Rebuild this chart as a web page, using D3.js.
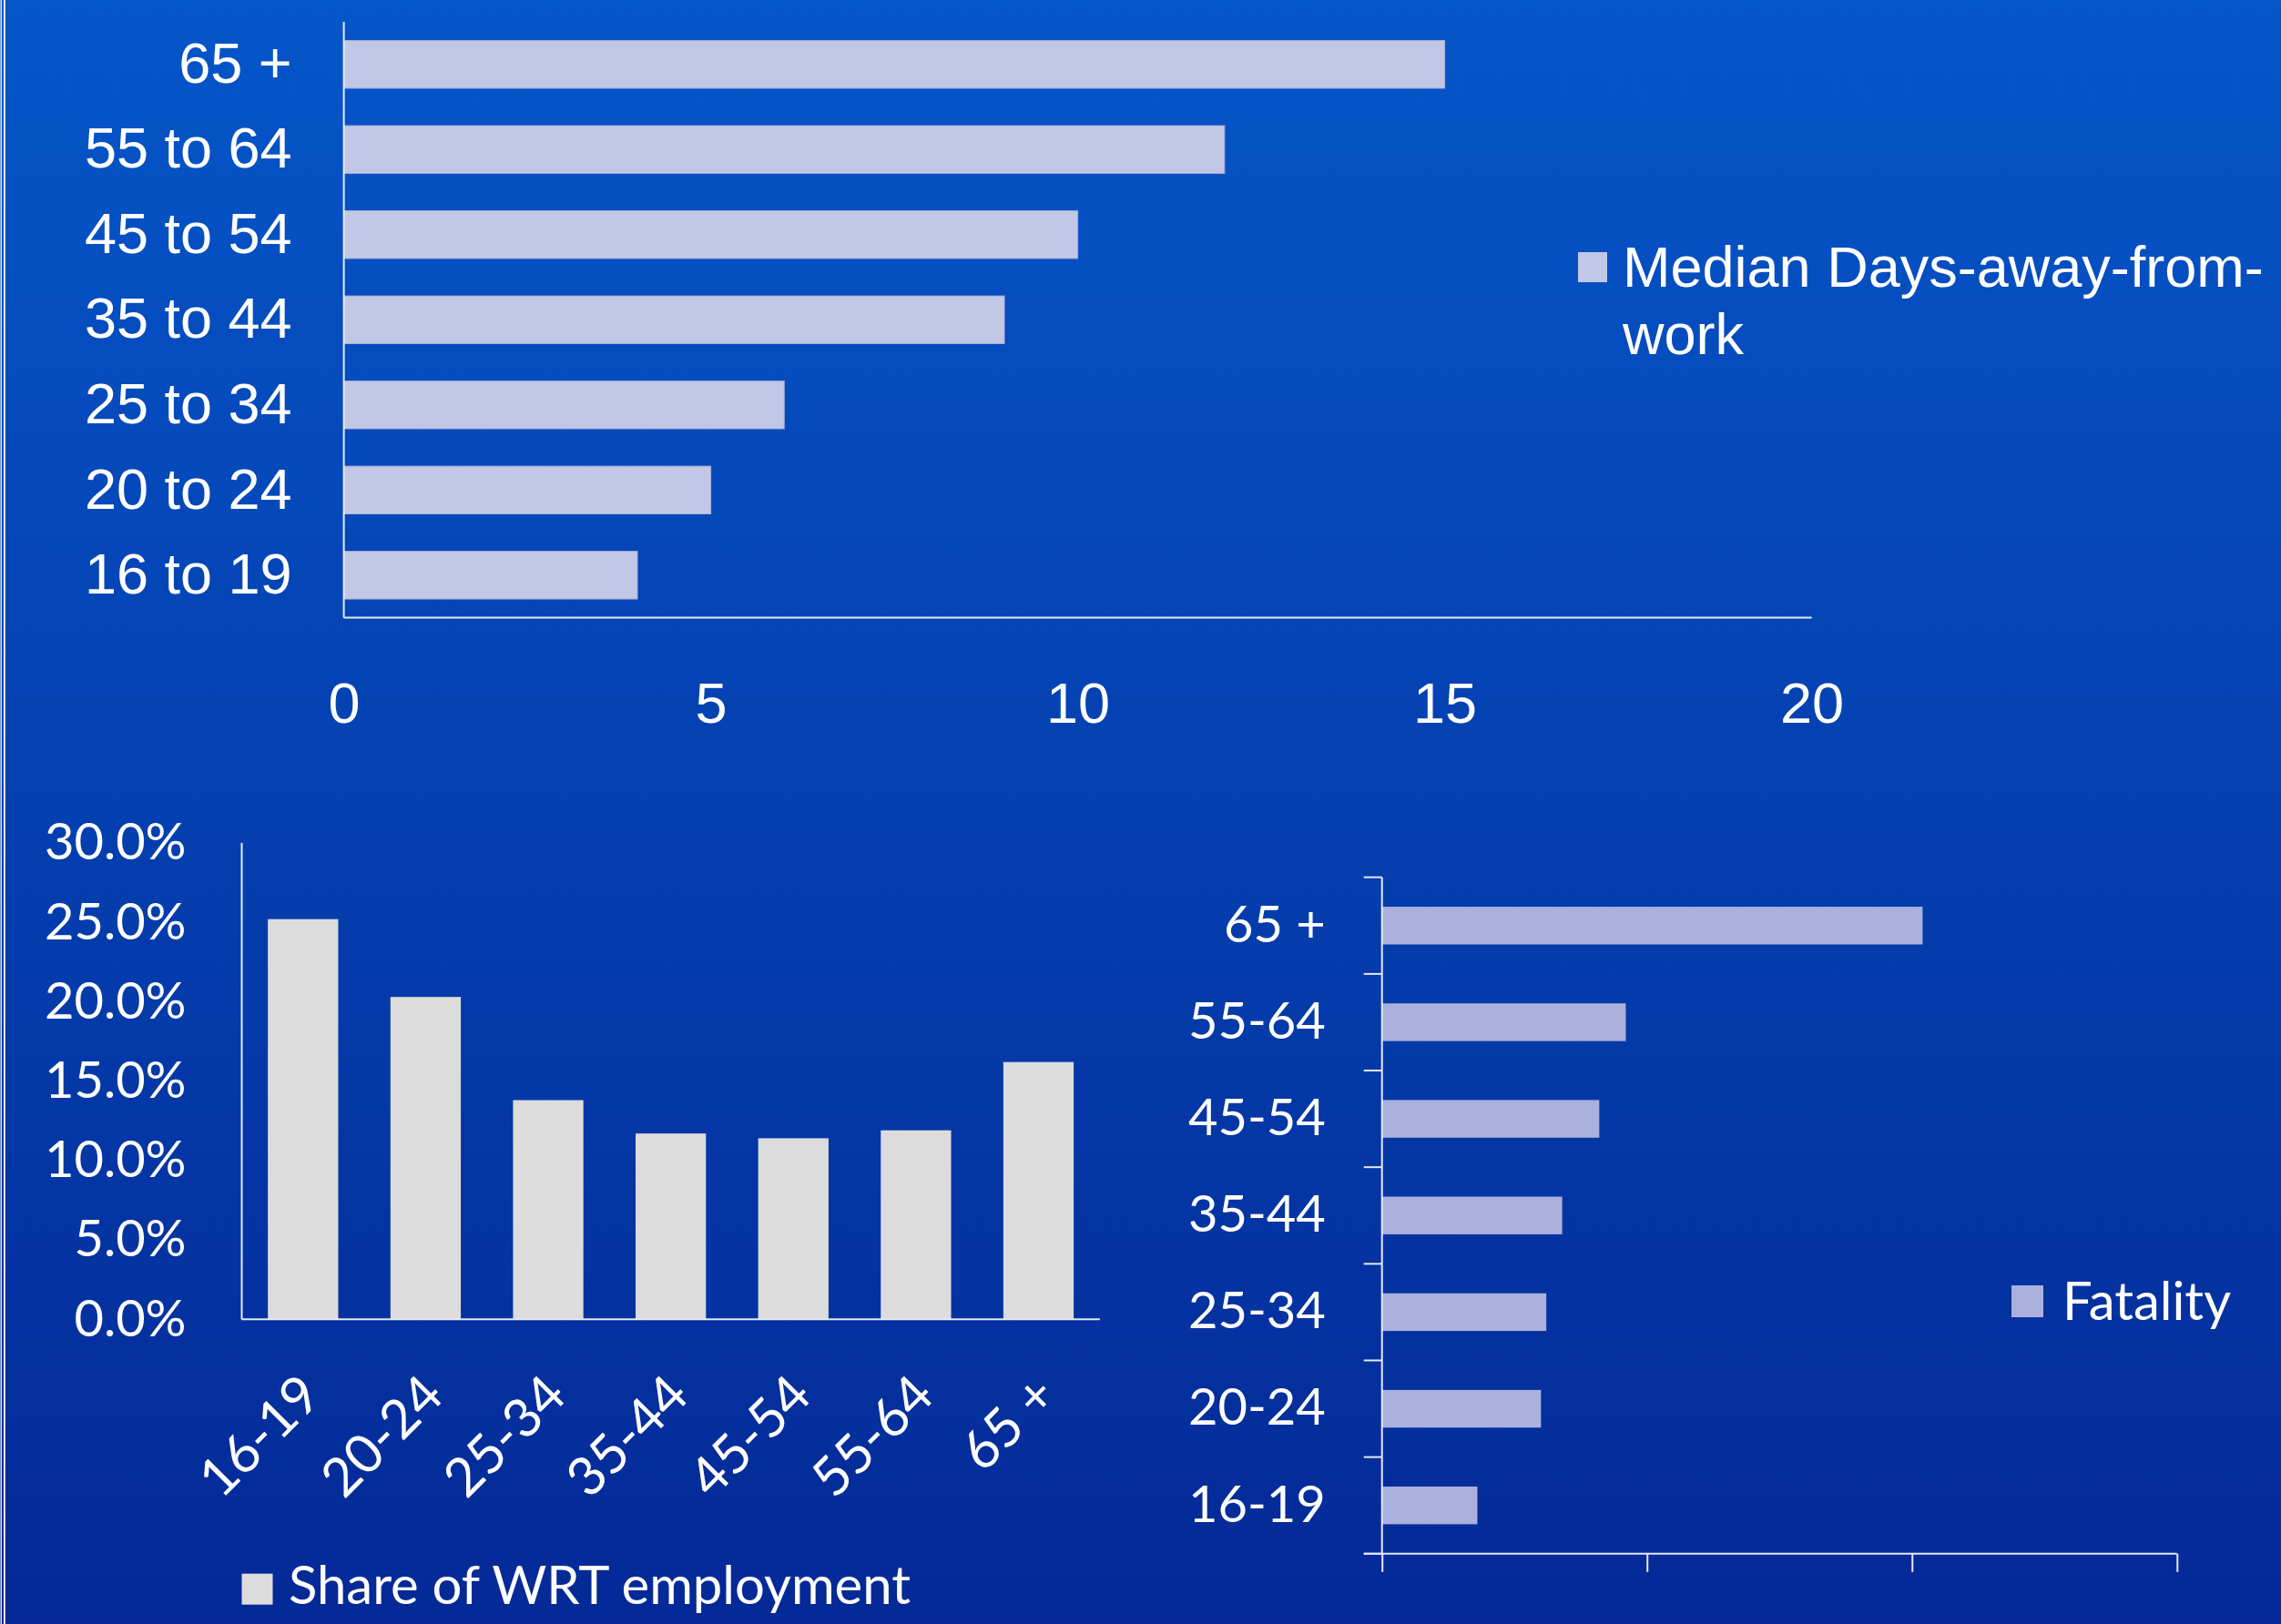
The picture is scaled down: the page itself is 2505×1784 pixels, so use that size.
<!DOCTYPE html>
<html>
<head>
<meta charset="utf-8">
<script src="https://cdn.jsdelivr.net/npm/d3@7"></script>
<style>
  body { margin: 0; padding: 0; overflow: hidden; }
  svg { display: block; }
</style>
</head>
<body>
<script>
// top chart: median days away from work
var daysCats = ["16 to 19", "20 to 24", "25 to 34", "35 to 44", "45 to 54", "55 to 64", "65 +"];
var daysValues = [4, 5, 6, 9, 10, 12, 15];
var daysTicks = [0, 5, 10, 15, 20];

// bottom left: share of WRT employment (%)
var shareCats = ["16-19", "20-24", "25-34", "35-44", "45-54", "55-64", "65 +"];
var shareValues = [25.2, 20.3, 13.8, 11.7, 11.4, 11.9, 16.2];
var shareTicks = [0, 5, 10, 15, 20, 25, 30];

// bottom right: fatality
var fatalCats = ["16-19", "20-24", "25-34", "35-44", "45-54", "55-64", "65 +"];
var fatalValues = [0.36, 0.60, 0.62, 0.68, 0.82, 0.92, 2.04];
var fatalTicks = [0, 1, 2, 3];

var W = 2505, H = 1784;
var arial = "'Liberation Sans', Arial, sans-serif";
var calibri = "Lato, 'Open Sans', sans-serif";
var axisColor = "#e6e9f6";

var svg = d3.select("body").append("svg")
    .attr("width", W)
    .attr("height", H);

var grad = svg.append("defs").append("linearGradient")
    .attr("id", "bg")
    .attr("x1", 0).attr("y1", 0).attr("x2", 0).attr("y2", 1);
grad.append("stop").attr("offset", "0%").attr("stop-color", "#0556c9");
grad.append("stop").attr("offset", "100%").attr("stop-color", "#042996");

svg.append("rect")
    .attr("width", W)
    .attr("height", H)
    .attr("fill", "url(#bg)");

// thin double border on the left edge
svg.append("line").attr("x1", 1.2).attr("x2", 1.2).attr("y1", 0).attr("y2", H)
    .attr("stroke", "#ffffff").attr("stroke-width", 1.3);
svg.append("line").attr("x1", 4.9).attr("x2", 4.9).attr("y1", 0).attr("y2", H)
    .attr("stroke", "#ffffff").attr("stroke-width", 1.8);

function styleAxis(g, font, size) {
    g.selectAll("text")
        .attr("fill", "#ffffff")
        .style("font-family", font)
        .style("font-size", size + "px");
    g.select(".domain").remove();
}

// ---------- top chart ----------
var topX = d3.scaleLinear().domain([0, 20]).range([377.6, 1989.6]);
var topY = d3.scaleBand().domain(daysCats.slice().reverse())
    .range([24, 678.6]).paddingInner(0.44).paddingOuter(0.22);

var topChart = svg.append("g");

topChart.selectAll("rect.bar")
    .data(daysValues)
    .enter().append("rect")
    .attr("class", "bar")
    .attr("x", topX(0))
    .attr("y", function (d, i) { return topY(daysCats[i]); })
    .attr("width", function (d) { return topX(d) - topX(0); })
    .attr("height", topY.bandwidth())
    .attr("fill", "#c3c7e6")
    .attr("stroke", "#a9aed6")
    .attr("stroke-width", 1);

topChart.append("line")
    .attr("x1", topX(0)).attr("x2", topX(0))
    .attr("y1", 24).attr("y2", 678.6)
    .attr("stroke", axisColor).attr("stroke-width", 2);
topChart.append("line")
    .attr("x1", topX(0)).attr("x2", topX(20))
    .attr("y1", 678.6).attr("y2", 678.6)
    .attr("stroke", axisColor).attr("stroke-width", 2);

topChart.append("g")
    .attr("transform", "translate(0,678.6)")
    .call(d3.axisBottom(topX).tickValues(daysTicks).tickSize(0).tickPadding(71))
    .call(styleAxis, arial, 63);

topChart.append("g")
    .attr("transform", "translate(377.6,0)")
    .call(d3.axisLeft(topY).tickSize(0).tickPadding(57))
    .call(styleAxis, arial, 63);

topChart.append("rect")
    .attr("x", 1733).attr("y", 277).attr("width", 32).attr("height", 33)
    .attr("fill", "#c3c7e6");
var topLegend = topChart.append("text")
    .attr("fill", "#ffffff")
    .style("font-family", arial)
    .style("font-size", "63px");
topLegend.append("tspan").attr("x", 1782).attr("y", 315.4).text("Median Days-away-from-");
topLegend.append("tspan").attr("x", 1782).attr("y", 388.6).text("work");

// ---------- bottom left chart ----------
var shX = d3.scaleBand().domain(shareCats)
    .range([265.5, 1207.8]).paddingInner(0.426).paddingOuter(0.213);
var shY = d3.scaleLinear().domain([0, 30]).range([1449.2, 926]);

var share = svg.append("g");

share.selectAll("rect.bar")
    .data(shareValues)
    .enter().append("rect")
    .attr("class", "bar")
    .attr("x", function (d, i) { return shX(shareCats[i]); })
    .attr("y", function (d) { return shY(d); })
    .attr("width", shX.bandwidth())
    .attr("height", function (d) { return shY(0) - shY(d); })
    .attr("fill", "#dcdcdc");

share.append("line")
    .attr("x1", 265.5).attr("x2", 265.5)
    .attr("y1", shY(30)).attr("y2", shY(0))
    .attr("stroke", axisColor).attr("stroke-width", 2);
share.append("line")
    .attr("x1", 265.5).attr("x2", 1207.8)
    .attr("y1", shY(0)).attr("y2", shY(0))
    .attr("stroke", axisColor).attr("stroke-width", 2);

share.append("g")
    .attr("transform", "translate(265.5,0)")
    .call(d3.axisLeft(shY).tickValues(shareTicks).tickSize(0).tickPadding(61)
        .tickFormat(function (d) { return d.toFixed(1) + "%"; }))
    .call(styleAxis, calibri, 56);

share.selectAll("text.xlab")
    .data(shareCats)
    .enter().append("text")
    .attr("class", "xlab")
    .attr("transform", function (d) {
        return "translate(" + (shX(d) + shX.bandwidth() / 2 + 8) + "," + (shY(0) + 72) + ") rotate(-45)";
    })
    .attr("text-anchor", "end")
    .attr("dy", "0.35em")
    .attr("fill", "#ffffff")
    .style("font-family", calibri)
    .style("font-size", "59px")
    .text(function (d) { return d; });

share.append("rect")
    .attr("x", 265.5).attr("y", 1728.7).attr("width", 34).attr("height", 34)
    .attr("fill", "#dcdcdc");
share.append("text")
    .attr("x", 317).attr("y", 1762)
    .attr("fill", "#ffffff")
    .style("font-family", calibri)
    .style("font-size", "58px")
    .text("Share of WRT employment");

// ---------- bottom right chart ----------
var faX = d3.scaleLinear().domain([0, 3]).range([1517.7, 2390.8]);
var faY = d3.scaleBand().domain(fatalCats.slice().reverse())
    .range([963.7, 1706.8]).paddingInner(0.61).paddingOuter(0.305);

var fatal = svg.append("g");

fatal.selectAll("rect.bar")
    .data(fatalValues)
    .enter().append("rect")
    .attr("class", "bar")
    .attr("x", faX(0))
    .attr("y", function (d, i) { return faY(fatalCats[i]); })
    .attr("width", function (d) { return faX(d) - faX(0); })
    .attr("height", faY.bandwidth())
    .attr("fill", "#a9b1dc");

// category boundary ticks on the left
var step = faY.step();
fatal.selectAll("line.ytick")
    .data(d3.range(fatalCats.length + 1))
    .enter().append("line")
    .attr("class", "ytick")
    .attr("x1", faX(0) - 20).attr("x2", faX(0))
    .attr("y1", function (i) { return 963.7 + i * step; })
    .attr("y2", function (i) { return 963.7 + i * step; })
    .attr("stroke", axisColor).attr("stroke-width", 2);

fatal.append("line")
    .attr("x1", faX(0)).attr("x2", faX(0))
    .attr("y1", 963.7).attr("y2", 1706.8)
    .attr("stroke", axisColor).attr("stroke-width", 2);

var faAxis = fatal.append("g")
    .attr("transform", "translate(0,1706.8)")
    .call(d3.axisBottom(faX).tickValues(fatalTicks).tickSize(20).tickFormat(""));
faAxis.select(".domain").remove();
faAxis.selectAll("line").attr("stroke", axisColor).attr("stroke-width", 2);
fatal.append("line")
    .attr("x1", faX(0) - 20).attr("x2", faX(3))
    .attr("y1", 1706.8).attr("y2", 1706.8)
    .attr("stroke", axisColor).attr("stroke-width", 2);

fatal.append("g")
    .attr("transform", "translate(1517.7,0)")
    .call(d3.axisLeft(faY).tickSize(0).tickPadding(62))
    .call(styleAxis, calibri, 56);

fatal.append("rect")
    .attr("x", 2209).attr("y", 1412).attr("width", 35).attr("height", 35)
    .attr("fill", "#a9b1dc");
fatal.append("text")
    .attr("x", 2265).attr("y", 1430)
    .attr("dy", "0.35em")
    .attr("fill", "#ffffff")
    .style("font-family", calibri)
    .style("font-size", "58px")
    .text("Fatality");
</script>
</body>
</html>
